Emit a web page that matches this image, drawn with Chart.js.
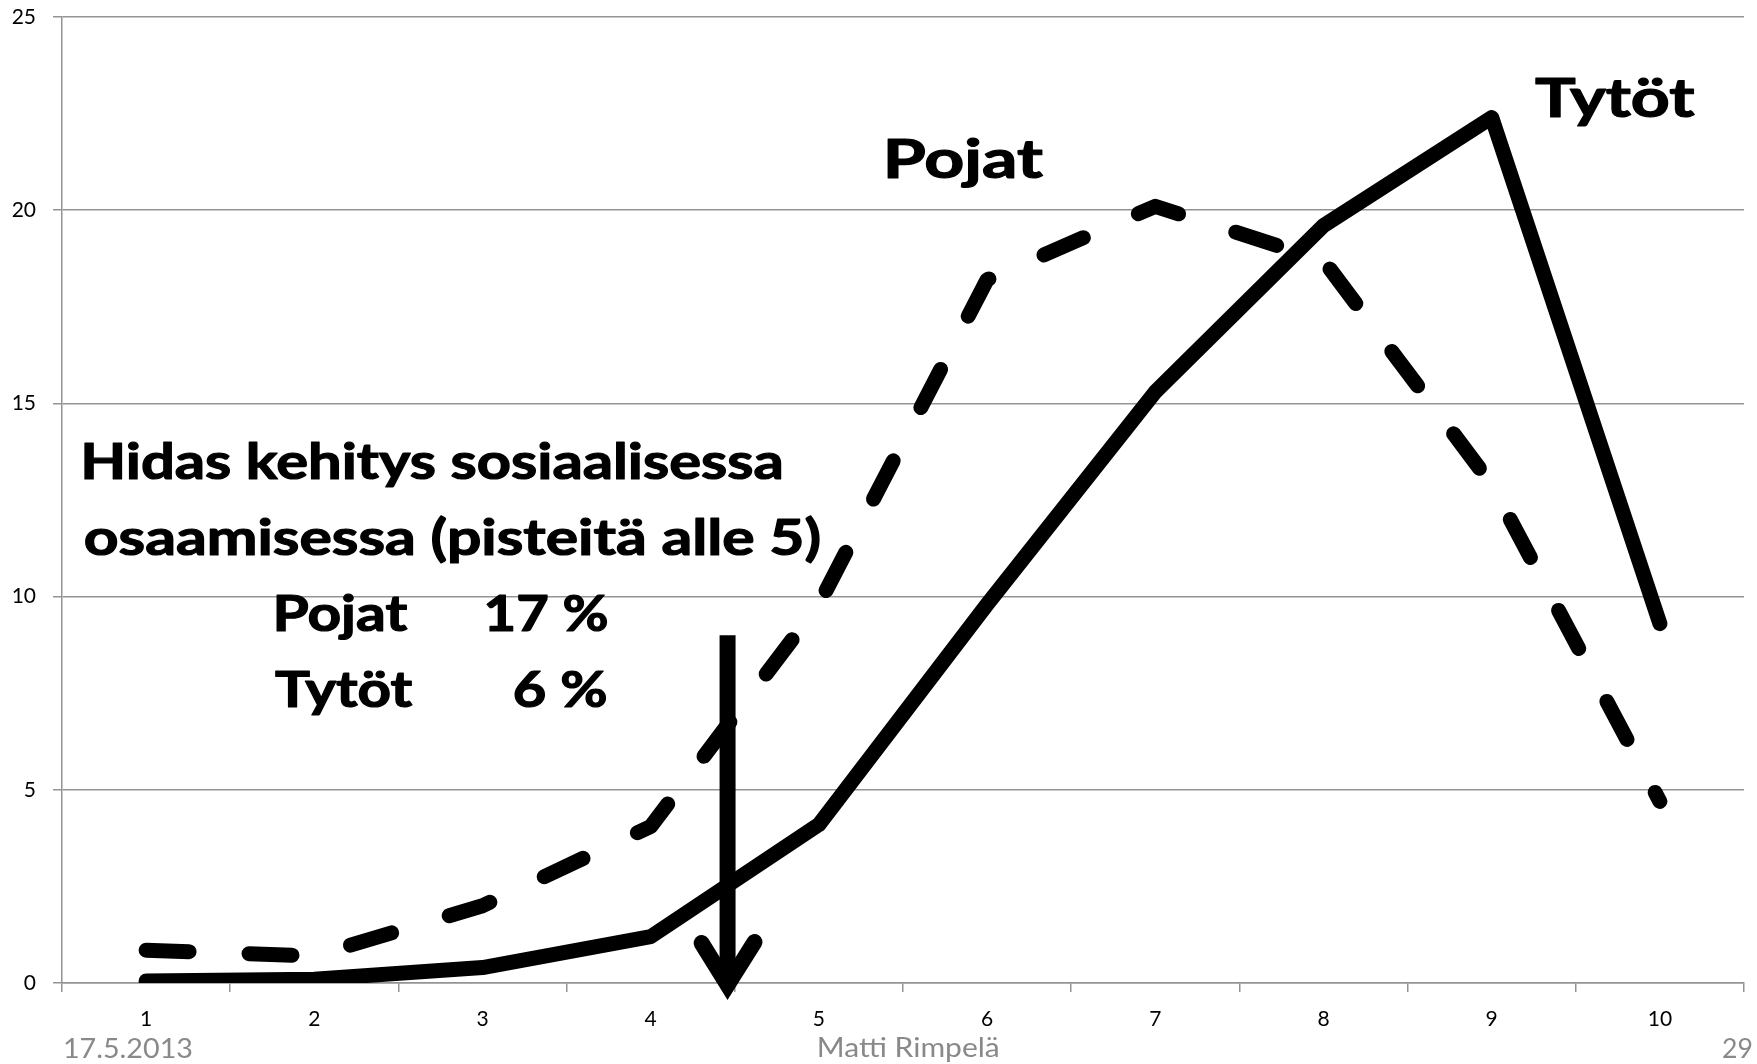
<!DOCTYPE html>
<html>
<head>
<meta charset="utf-8">
<script src="https://cdn.jsdelivr.net/npm/chart.js@4.4.1/dist/chart.umd.min.js"></script>
<style>
  html, body { margin: 0; padding: 0; background: #ffffff; }
  canvas { display: block; }
</style>
</head>
<body>
<canvas id="c" width="1757" height="1064"></canvas>
<script>
// ---- data ----
const categories = ['1', '2', '3', '4', '5', '6', '7', '8', '9', '10'];
const tytot = [0.05, 0.1, 0.4, 1.2, 4.1, 9.8, 15.3, 19.6, 22.4, 9.3];
const pojat = [0.85, 0.7, 2.0, 4.05, 9.8, 18.2, 20.1, 18.7, 12.9, 4.7];
const yMin = 0, yMax = 25, yStep = 5;
const seriesNames = ['Tytöt', 'Pojat'];
const noteLines = ['Hidas kehitys sosiaalisessa', 'osaamisessa (pisteitä alle 5)'];
const noteRows = [['Pojat', '17 %'], ['Tytöt', '6 %']];
const footer = ['17.5.2013', 'Matti Rimpelä', '29'];

const FONT = 'Lato, "Open Sans", "Liberation Sans", sans-serif';
const GRID = '#949494';

function fitText(ctx, text, left, baseline, capH, inkWidth, color, weight, strokeW) {
  ctx.save();
  ctx.font = weight + ' 100px ' + FONT;
  const capRatio = ctx.measureText('H').actualBoundingBoxAscent / 100;
  const size = capH / capRatio;
  ctx.font = weight + ' ' + size + 'px ' + FONT;
  ctx.textAlign = 'left';
  ctx.textBaseline = 'alphabetic';
  const m = ctx.measureText(text);
  const ink = m.actualBoundingBoxLeft + m.actualBoundingBoxRight;
  const sx = inkWidth ? inkWidth / ink : 1;
  ctx.translate(left, baseline);
  ctx.scale(sx, 1);
  ctx.fillStyle = color;
  ctx.fillText(text, m.actualBoundingBoxLeft, 0);
  if (strokeW) {
    ctx.strokeStyle = color;
    ctx.lineWidth = strokeW;
    ctx.lineJoin = 'round';
    ctx.strokeText(text, m.actualBoundingBoxLeft, 0);
  }
  ctx.restore();
}

const annotations = {
  id: 'annotations',
  afterDraw(chart) {
    const ctx = chart.ctx;
    const xs = chart.scales.x, ys = chart.scales.y;
    const area = chart.chartArea;

    // texts
    fitText(ctx, noteLines[0], 85, 479, 36.5, 696, '#000', 'bold', 1.2);
    fitText(ctx, noteLines[1], 85, 555, 36.5, 734, '#000', 'bold', 1.2);
    fitText(ctx, noteRows[0][0], 276, 631, 36, 132, '#000', 'bold', 1.2);
    fitText(ctx, noteRows[0][1], 487, 631, 36, 120, '#000', 'bold', 1.2);
    fitText(ctx, noteRows[1][0], 275, 707, 36, 138, '#000', 'bold', 1.2);
    fitText(ctx, noteRows[1][1], 515, 707, 36, 91, '#000', 'bold', 1.2);
    fitText(ctx, seriesNames[1], 888, 178, 39, 155, '#000', 'bold', 1.2);
    fitText(ctx, seriesNames[0], 1535, 117, 38.5, 160, '#000', 'bold', 1.2);

    fitText(ctx, footer[0], 65, 1058, 20, 127, '#898989', 'normal', 0);
    fitText(ctx, footer[1], 819, 1057, 20, 179, '#898989', 'normal', 0);
    fitText(ctx, footer[2], 1723, 1058, 20, 29, '#898989', 'normal', 0);

    // arrow
    const p3 = xs.getPixelForValue(3), p4 = xs.getPixelForValue(4);
    const ax = p3 + 0.457 * (p4 - p3);
    const top = ys.getPixelForValue(9.0);
    const tip = area.bottom + 18;
    const join = tip - 16;
    ctx.save();
    ctx.strokeStyle = '#000';
    ctx.lineWidth = 16;
    ctx.lineCap = 'butt';
    ctx.beginPath();
    ctx.moveTo(ax, top);
    ctx.lineTo(ax, join);
    ctx.stroke();
    ctx.lineCap = 'round';
    ctx.lineJoin = 'miter';
    ctx.miterLimit = 10;
    ctx.beginPath();
    ctx.moveTo(ax - 26, join - 42);
    ctx.lineTo(ax, join);
    ctx.lineTo(ax + 27, join - 43);
    ctx.stroke();
    ctx.restore();
  }
};

new Chart(document.getElementById('c'), {
  type: 'line',
  data: {
    labels: categories,
    datasets: [
      {
        label: seriesNames[0],
        data: tytot,
        borderColor: '#000',
        borderWidth: 15,
        borderCapStyle: 'round',
        borderJoinStyle: 'round',
        pointRadius: 0,
        tension: 0,
        fill: false
      },
      {
        label: seriesNames[1],
        data: pojat,
        borderColor: '#000',
        borderWidth: 15,
        borderDash: [43, 60],
        borderCapStyle: 'round',
        borderJoinStyle: 'round',
        pointRadius: 0,
        tension: 0,
        fill: false
      }
    ]
  },
  options: {
    responsive: false,
    animation: false,
    devicePixelRatio: 1,
    layout: { padding: { top: 17, right: 13, bottom: 0, left: 0 } },
    plugins: { legend: { display: false }, tooltip: { enabled: false } },
    scales: {
      x: {
        type: 'category',
        offset: true,
        afterFit(scale) { scale.height = 81; scale.paddingLeft = 0; scale.paddingRight = 0; },
        grid: {
          display: true,
          offset: true,
          drawOnChartArea: false,
          drawTicks: true,
          tickLength: 9,
          color: GRID,
          lineWidth: 1.5
        },
        border: { display: true, color: GRID, width: 1.5 },
        ticks: {
          color: '#000',
          font: { family: FONT, size: 21 },
          padding: 15,
          maxRotation: 0,
          autoSkip: false
        }
      },
      y: {
        min: yMin,
        max: yMax,
        afterFit(scale) { scale.width = 62; scale.paddingTop = 12; scale.paddingBottom = 12; },
        grid: {
          color: GRID,
          lineWidth: 1.5,
          drawTicks: true,
          tickLength: 9
        },
        border: { display: true, color: GRID, width: 1.5 },
        ticks: {
          stepSize: yStep,
          color: '#000',
          font: { family: FONT, size: 21 },
          padding: 17
        }
      }
    }
  },
  plugins: [annotations]
});
</script>
</body>
</html>
